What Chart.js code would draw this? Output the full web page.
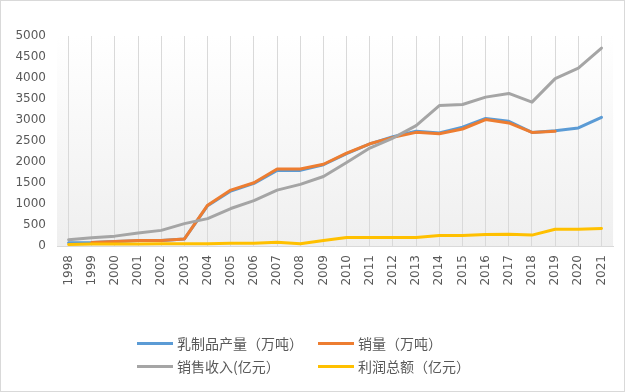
<!DOCTYPE html>
<html><head><meta charset="utf-8">
<script src="https://cdn.jsdelivr.net/npm/chart.js@4/dist/chart.umd.min.js"></script>
<style>
html,body{margin:0;padding:0;background:#fff;}
#wrap{position:relative;width:625px;height:392px;overflow:hidden;}
#frame{position:absolute;left:0;top:0;width:625px;height:392px;box-sizing:border-box;border:1px solid #d9d9d9;pointer-events:none;}
canvas{position:absolute;left:0;top:0;}
.lg{position:absolute;font-family:"Noto Sans CJK SC","DejaVu Sans",sans-serif;font-size:14px;color:#595959;line-height:16px;white-space:nowrap;}
.sw{position:absolute;height:3px;width:36px;}
</style></head>
<body>
<div id="wrap">
<canvas id="c" width="625" height="392"></canvas>
<div id="legend"></div>
<div id="frame"></div>
</div>
<script>
const years = ['1998','1999','2000','2001','2002','2003','2004','2005','2006','2007','2008','2009','2010','2011','2012','2013','2014','2015','2016','2017','2018','2019','2020','2021'];
const production = [80,85,105,128,130,168,960,1310,1490,1800,1800,1935,2200,2430,2600,2735,2690,2830,3035,2970,2705,2745,2810,3065];
const salesVolume = [null,85,108,132,132,168,971,1331,1507,1835,1835,1946,2210,2434,2586,2706,2674,2786,3010,2930,2705,2730,null,null];
const salesRevenue = [149,197,235,307,372,532,652,892,1080,1331,1467,1655,1986,2331,2571,2866,3345,3369,3545,3633,3425,3985,4233,4712];
const profit = [36,45,48,50,52,52,52,67,67,91,52,132,205,205,205,205,252,252,276,280,260,400,400,415];
const yTicks = {min:0, max:5000, step:500};
const seriesNames = ['乳制品产量（万吨）','销量（万吨）','销售收入(亿元）','利润总额（亿元）'];
const colors = ['#5B9BD5','#ED7D31','#A5A5A5','#FFC000'];

// HTML legend (2 x 2 grid)
const legendPos = [[137,343],[318,343],[137,366],[318,366]];
const lg = document.getElementById('legend');
seriesNames.forEach((n,i)=>{
  const [x,y] = legendPos[i];
  const sw = document.createElement('div'); sw.className='sw';
  sw.style.left = x+'px'; sw.style.top = (y-1)+'px'; sw.style.background = colors[i];
  lg.appendChild(sw);
  const t = document.createElement('div'); t.className='lg';
  t.style.left = (x+40)+'px'; t.style.top = (y-8)+'px'; t.textContent = n;
  lg.appendChild(t);
});

const bgPlugin = {
  id:'plotBg',
  beforeDraw(chart){
    const {ctx, chartArea:a} = chart;
    ctx.save();
    ctx.fillStyle = '#ffffff';
    ctx.fillRect(0,0,chart.width,chart.height);
    const g = ctx.createLinearGradient(0,a.top,0,a.bottom);
    g.addColorStop(0,'#ffffff');
    g.addColorStop(1,'#efefef');
    ctx.fillStyle = g;
    ctx.fillRect(a.left,a.top,a.right-a.left,a.bottom-a.top);
    ctx.restore();
  }
};

const mk = (label,data,i,order)=>({label,data,borderColor:colors[i],backgroundColor:colors[i],borderWidth:3,pointRadius:0,tension:0,fill:false,order,spanGaps:false,borderCapStyle:'round',borderJoinStyle:'round'});

new Chart(document.getElementById('c'),{
  type:'line',
  data:{labels:years,datasets:[
    mk(seriesNames[0],production,0,4),
    mk(seriesNames[1],salesVolume,1,3),
    mk(seriesNames[2],salesRevenue,2,2),
    mk(seriesNames[3],profit,3,1)
  ]},
  options:{
    responsive:false,animation:false,
    layout:{padding:{top:36,right:5,left:0,bottom:0}},
    plugins:{legend:{display:false},tooltip:{enabled:false}},
    scales:{
      x:{
        offset:true,
        grid:{display:true,offset:false,color:'#d9d9d9',lineWidth:1,drawTicks:false},
        border:{display:true,color:'#d9d9d9'},
        ticks:{minRotation:90,maxRotation:90,autoSkip:false,padding:9,color:'#595959',font:{family:'DejaVu Sans',size:12}},
        afterFit(s){ s.height = 146; }
      },
      y:{
        min:yTicks.min,max:yTicks.max,
        grid:{display:false,drawTicks:false},
        border:{display:false},
        ticks:{stepSize:yTicks.step,padding:11,color:'#595959',font:{family:'DejaVu Sans',size:12},callback:(v)=>String(v)},
        afterFit(s){ s.width = 57; }
      }
    }
  },
  plugins:[bgPlugin]
});
</script>
</body></html>
